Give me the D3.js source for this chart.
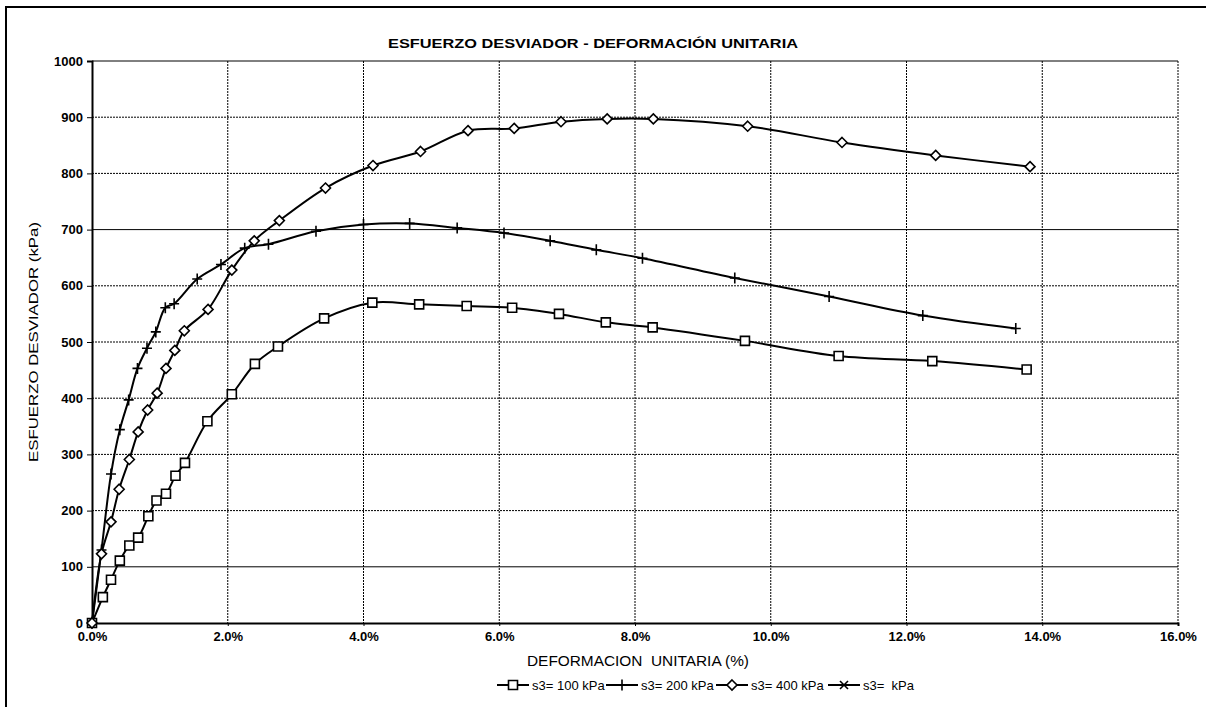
<!DOCTYPE html>
<html><head><meta charset="utf-8">
<script src="https://cdn.jsdelivr.net/npm/d3@7/dist/d3.min.js"></script>
<style>
body{margin:0;background:#fff}
text{font-family:Arial,"Liberation Sans",sans-serif;fill:#000}
</style></head>
<body><svg id="chart" width="1206" height="707"></svg>
<script>
const xTicks = [0, 2, 4, 6, 8, 10, 12, 14, 16];
const yTicks = [0, 100, 200, 300, 400, 500, 600, 700, 800, 900, 1000];

const seriesNames = ["s3= 100 kPa", "s3= 200 kPa", "s3= 400 kPa", "s3=  kPa"];
const seriesMarkers = ["square", "plus", "diamond", "star"];

const strain100 = [0, 0.16, 0.28, 0.41, 0.55, 0.68, 0.83, 0.95, 1.09, 1.23, 1.37, 1.70, 2.06, 2.40, 2.74, 3.42, 4.13, 4.82, 5.52, 6.19, 6.88, 7.57, 8.26, 9.62, 11.00, 12.38, 13.77];
const stress100 = [0, 46, 77, 111, 138, 152, 190, 218, 230, 262, 285, 359, 407, 461, 492, 542, 570, 567, 564, 561, 550, 535, 526, 502, 475, 466, 451];

const strain200 = [0, 0.14, 0.28, 0.41, 0.54, 0.67, 0.81, 0.94, 1.08, 1.21, 1.55, 1.90, 2.25, 2.60, 3.30, 4.00, 4.68, 5.38, 6.07, 6.75, 7.43, 8.11, 9.47, 10.86, 12.24, 13.61];
const stress200 = [0, 130, 265, 344, 397, 453, 489, 518, 561, 568, 612, 638, 667, 674, 697, 709, 711, 703, 694, 680, 664, 649, 614, 581, 547, 524];

const strain400 = [0, 0.14, 0.28, 0.40, 0.55, 0.68, 0.82, 0.96, 1.09, 1.22, 1.36, 1.71, 2.06, 2.39, 2.76, 3.44, 4.14, 4.84, 5.54, 6.22, 6.91, 7.59, 8.27, 9.66, 11.05, 12.43, 13.82];
const stress400 = [0, 123, 180, 238, 291, 340, 379, 409, 453, 485, 520, 558, 628, 680, 716, 774, 814, 839, 876, 880, 892, 897, 897, 884, 855, 832, 812];

const strainEmpty = [];
const stressEmpty = [];

const titleText = "ESFUERZO DESVIADOR - DEFORMACIÓN UNITARIA";
const xTitle = "DEFORMACION  UNITARIA (%)";
const yTitle = "ESFUERZO DESVIADOR (kPa)";

const series = [
  {name: seriesNames[0], marker: seriesMarkers[0], pts: strain100.map((d,i)=>[d, stress100[i]])},
  {name: seriesNames[1], marker: seriesMarkers[1], pts: strain200.map((d,i)=>[d, stress200[i]])},
  {name: seriesNames[2], marker: seriesMarkers[2], pts: strain400.map((d,i)=>[d, stress400[i]])},
  {name: seriesNames[3], marker: seriesMarkers[3], pts: strainEmpty.map((d,i)=>[d, stressEmpty[i]])}
];

const svg = d3.select("#chart");
const L = 92, R = 1178, T = 61, B = 623;
const x = d3.scaleLinear().domain([0, 16]).range([L, R]);
const y = d3.scaleLinear().domain([0, 1000]).range([B, T]);

// outer frame (only top and left edges visible in the picture)
svg.append("path").attr("d", `M6,712 V7 H1212`).attr("fill","none").attr("stroke","#000").attr("stroke-width",2);

// grid lines
const grid = svg.append("g");
grid.selectAll("line.h").data(yTicks.filter(d=>d>0)).join("line")
  .attr("x1", L).attr("x2", R).attr("y1", d=>y(d)).attr("y2", d=>y(d))
  .attr("stroke", "#000").attr("stroke-width", 1)
  .attr("stroke-dasharray", d => (d===700||d===100||d===1000) ? null : "2,1");
grid.selectAll("line.v").data(xTicks.filter(d=>d>0)).join("line")
  .attr("y1", T).attr("y2", B).attr("x1", d=>x(d)).attr("x2", d=>x(d))
  .attr("stroke", "#000").attr("stroke-width", 1).attr("stroke-dasharray", "2,1");

// axes
const yAxis = d3.axisLeft(y).tickValues(yTicks).tickSize(5).tickPadding(4).tickFormat(d3.format("d"));
const gy = svg.append("g").attr("transform", `translate(${L},0)`).call(yAxis);
gy.select(".domain").attr("stroke-width", 2);
gy.selectAll("text").style("font-size","13px").style("font-weight","bold").attr("font-family","Arial, 'Liberation Sans', sans-serif");

const xAxis = d3.axisBottom(x).tickValues(xTicks).tickSize(3).tickPadding(6).tickFormat(d => d.toFixed(1) + "%");
const gx = svg.append("g").attr("transform", `translate(0,${B})`).call(xAxis);
gx.select(".domain").attr("stroke-width", 2);
gx.selectAll("text").style("font-size","13px").style("font-weight","bold").attr("font-family","Arial, 'Liberation Sans', sans-serif");

// titles
svg.append("text").attr("x", 593).attr("y", 48).attr("text-anchor","middle")
  .style("font-size","12px").style("font-weight","bold")
  .attr("textLength", 410).attr("lengthAdjust","spacingAndGlyphs").text(titleText);
svg.append("text").attr("x", 638).attr("y", 666).attr("text-anchor","middle")
  .style("font-size","14px").attr("textLength", 222).attr("lengthAdjust","spacingAndGlyphs")
  .style("white-space","pre").text(xTitle);
svg.append("text").attr("transform", `translate(38,${(T+B)/2}) rotate(-90)`).attr("text-anchor","middle")
  .style("font-size","13px").style("fill","#000").attr("textLength", 240).attr("lengthAdjust","spacingAndGlyphs").text(yTitle);

// markers
function markerPath(type) {
  switch (type) {
    case "square": return "M-4.5,-4.5H4.5V4.5H-4.5Z";
    case "plus": return "M-5,0H5M0,-5.5V5.5";
    case "diamond": return "M0,-5L5,0L0,5L-5,0Z";
    case "star": return "M-4,-4L4,4M-4,4L4,-4M-5,0H5";
  }
}
const line = d3.line().x(d=>x(d[0])).y(d=>y(d[1])).curve(d3.curveCatmullRom.alpha(0.5));

const plot = svg.append("g");
series.forEach(s => {
  if (!s.pts.length) return;
  plot.append("path").attr("d", line(s.pts)).attr("fill","none").attr("stroke","#000").attr("stroke-width",2);
});
series.forEach(s => {
  plot.selectAll(null).data(s.pts).join("path")
    .attr("transform", d=>`translate(${x(d[0])},${y(d[1])})`)
    .attr("d", markerPath(s.marker))
    .attr("fill", (s.marker==="square"||s.marker==="diamond") ? "#fff" : "none")
    .attr("stroke","#000").attr("stroke-width",1.6);
});

// legend
const legendX = [497, 606, 716, 828];
const lg = svg.append("g").attr("transform","translate(0,685)");
series.forEach((s,i) => {
  const g = lg.append("g").attr("transform", `translate(${legendX[i]},0)`);
  g.append("line").attr("x1",0).attr("x2",32).attr("y1",0).attr("y2",0).attr("stroke","#000").attr("stroke-width",2);
  g.append("path").attr("transform","translate(16,0)").attr("d", markerPath(s.marker))
    .attr("fill", (s.marker==="square"||s.marker==="diamond") ? "#fff" : "none")
    .attr("stroke","#000").attr("stroke-width",1.6);
  g.append("text").attr("x", 35).attr("y", 5).style("font-size","13px").style("white-space","pre").text(s.name);
});
</script>
</body></html>
